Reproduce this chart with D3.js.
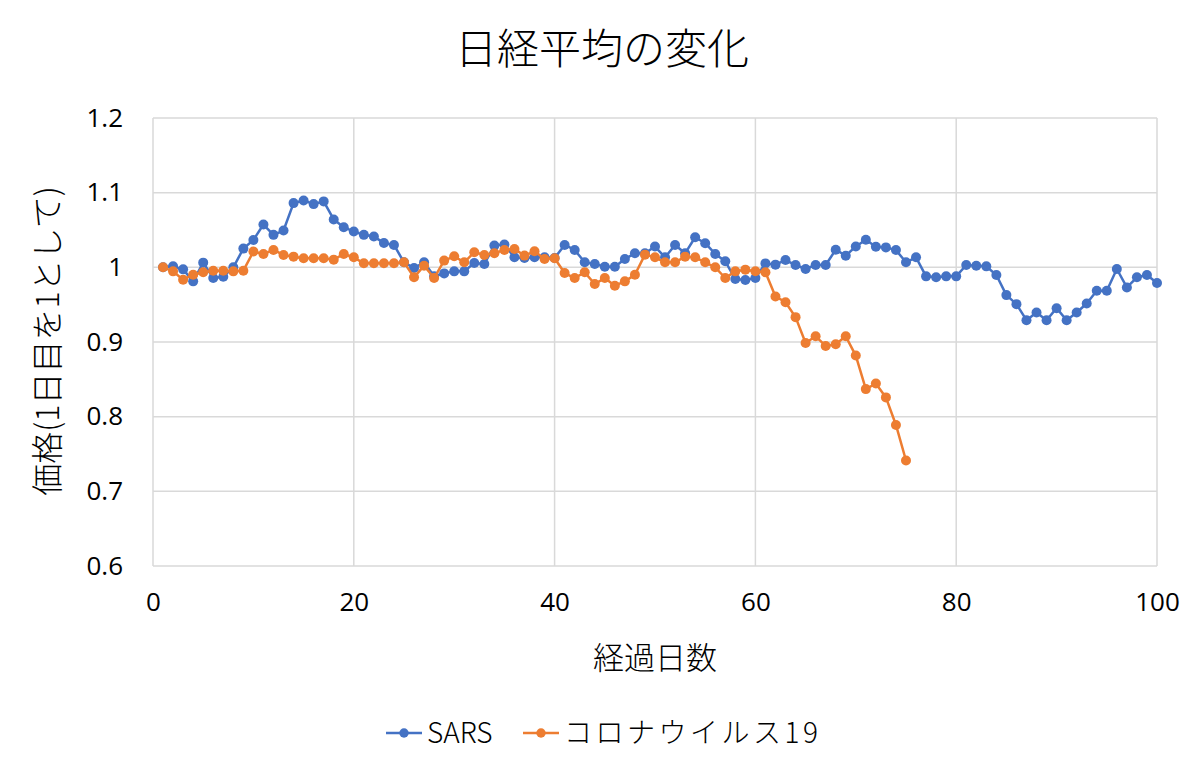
<!DOCTYPE html>
<html>
<head>
<meta charset="utf-8">
<script src="https://cdn.jsdelivr.net/npm/d3@7"></script>
<style>
  body { margin: 0; background: #fff; }
  svg { font-family: "Noto Sans CJK JP", "Noto Sans", sans-serif; }
</style>
</head>
<body>
<div id="chart"></div>
<script>
const sars = [
  1.000, 1.0013, 0.9973, 0.9812, 1.0063, 0.9857, 0.9875, 1.000, 1.0251, 1.0367,
  1.0573, 1.0435, 1.0493, 1.0860, 1.0896, 1.0847, 1.0883, 1.0641, 1.0538, 1.0479,
  1.0435, 1.0412, 1.0327, 1.0300, 1.0067, 0.9991, 1.0067, 0.9880, 0.9919, 0.9946,
  0.9946, 1.0058, 1.0045, 1.0291, 1.0305, 1.0134, 1.0125, 1.0134, 1.0134, 1.0125,
  1.0300, 1.0233, 1.0067, 1.0045, 1.0009, 1.0009, 1.0112, 1.0188, 1.0188, 1.0278,
  1.0134, 1.0300, 1.0188, 1.0403, 1.0323, 1.0179, 1.0081, 0.9843, 0.9830, 0.9858,
  1.0053, 1.0036, 1.0098, 1.0031, 0.9978, 1.0031, 1.0031, 1.0236, 1.0156, 1.0280,
  1.0369, 1.0276, 1.0267, 1.0231, 1.0067, 1.0134, 0.9879, 0.9866, 0.9879, 0.9879,
  1.0031, 1.0022, 1.0013, 0.9897, 0.9628, 0.9507, 0.9292, 0.9395, 0.9292, 0.9453,
  0.9292, 0.9395, 0.9516, 0.9686, 0.9686, 0.9978, 0.9731, 0.9866, 0.9897, 0.9789
];
const corona = [
  1.000, 0.9946, 0.9834, 0.9901, 0.9933, 0.9955, 0.9955, 0.9946, 0.9955, 1.0211,
  1.0179, 1.0233, 1.0166, 1.0143, 1.0121, 1.0121, 1.0121, 1.0103, 1.0179, 1.0134,
  1.0054, 1.0054, 1.0054, 1.0054, 1.0067, 0.9866, 1.0022, 0.9857, 1.0090, 1.0148,
  1.0067, 1.0202, 1.0166, 1.0188, 1.0233, 1.0246, 1.0157, 1.0215, 1.0112, 1.0121,
  0.9924, 0.9857, 0.9933, 0.9776, 0.9857, 0.9754, 0.9812, 0.9901, 1.0170, 1.0134,
  1.0067, 1.0067, 1.0143, 1.0134, 1.0067, 1.0000, 0.9857, 0.9946, 0.9969, 0.9947,
  0.9933, 0.9609, 0.9533, 0.9333, 0.8987, 0.9076, 0.8947, 0.8969, 0.9076, 0.8818,
  0.8369, 0.8444, 0.8258, 0.7889, 0.7413
];
const seriesNames = ["SARS", "コロナウイルス19"];
const colors = ["#4472c4", "#ed7d31"];
const xTicks = [0, 20, 40, 60, 80, 100];
const yTicks = [0.6, 0.7, 0.8, 0.9, 1.0, 1.1, 1.2];
const yTickLabels = ["0.6", "0.7", "0.8", "0.9", "1", "1.1", "1.2"];

const w = 1200, h = 768;
const m = { left: 153, right: 43, top: 118, bottom: 202 };

const svg = d3.select("#chart").append("svg")
  .attr("width", w)
  .attr("height", h);

const x = d3.scaleLinear().domain([0, 100]).range([m.left, w - m.right]);
const y = d3.scaleLinear().domain([0.6, 1.2]).range([h - m.bottom, m.top]);

// grid
svg.append("g")
  .selectAll("line")
  .data(yTicks)
  .enter().append("line")
  .attr("x1", x(0)).attr("x2", x(100))
  .attr("y1", (d) => y(d)).attr("y2", (d) => y(d))
  .attr("stroke", "#d9d9d9").attr("stroke-width", 1.5);

svg.append("g")
  .selectAll("line")
  .data(xTicks)
  .enter().append("line")
  .attr("x1", (d) => x(d)).attr("x2", (d) => x(d))
  .attr("y1", y(0.6)).attr("y2", y(1.2))
  .attr("stroke", "#d9d9d9").attr("stroke-width", 1.5);

// axes (labels only)
const yAxis = svg.append("g")
  .attr("transform", `translate(${m.left},0)`)
  .call(d3.axisLeft(y).tickValues(yTicks).tickSize(0).tickPadding(30)
    .tickFormat((d, i) => yTickLabels[i]));
yAxis.select(".domain").remove();
yAxis.selectAll("text")
  .attr("font-size", 26).attr("fill", "#000")
  .attr("font-family", "Open Sans, Noto Sans, sans-serif");

const xAxis = svg.append("g")
  .attr("transform", `translate(0,${y(0.6)})`)
  .call(d3.axisBottom(x).tickValues(xTicks).tickSize(0).tickPadding(27));
xAxis.select(".domain").remove();
xAxis.selectAll("text")
  .attr("font-size", 26).attr("fill", "#000")
  .attr("font-family", "Open Sans, Noto Sans, sans-serif");

// lines
const line = d3.line().x((d, i) => x(i + 1)).y((d) => y(d));
[sars, corona].forEach((data, k) => {
  const g = svg.append("g");
  g.append("path")
    .datum(data)
    .attr("d", line)
    .attr("fill", "none")
    .attr("stroke", colors[k])
    .attr("stroke-width", 2.5)
    .attr("stroke-linejoin", "round");
  g.selectAll("circle")
    .data(data)
    .enter().append("circle")
    .attr("cx", (d, i) => x(i + 1))
    .attr("cy", (d) => y(d))
    .attr("r", 5)
    .attr("fill", colors[k]);
});

// title
svg.append("text")
  .attr("x", 602).attr("y", 64)
  .attr("text-anchor", "middle")
  .attr("font-size", 42).attr("font-weight", 300)
  .attr("fill", "#000")
  .text("日経平均の変化");

// axis titles
svg.append("text")
  .attr("x", 655).attr("y", 669)
  .attr("text-anchor", "middle")
  .attr("font-size", 31).attr("font-weight", 300)
  .attr("fill", "#000")
  .text("経過日数");

svg.append("text")
  .attr("transform", "translate(59,341) rotate(-90)")
  .attr("text-anchor", "middle")
  .attr("font-size", 32).attr("font-weight", 300)
  .attr("fill", "#000")
  .text("価格(1日目を1として)");

// legend
const legendX = [386, 523];
const legend = svg.append("g");
seriesNames.forEach((name, k) => {
  const lx = legendX[k];
  legend.append("line")
    .attr("x1", lx).attr("x2", lx + 36)
    .attr("y1", 733).attr("y2", 733)
    .attr("stroke", colors[k]).attr("stroke-width", 2.5);
  legend.append("circle")
    .attr("cx", lx + 18).attr("cy", 733).attr("r", 4.7)
    .attr("fill", colors[k]);
  legend.append("text")
    .attr("x", lx + 41).attr("y", 743)
    .attr("font-size", 28).attr("font-weight", 300)
    .attr("letter-spacing", k === 1 ? 3.5 : 0)
    .attr("fill", "#000")
    .text(name);
});
</script>
</body>
</html>
